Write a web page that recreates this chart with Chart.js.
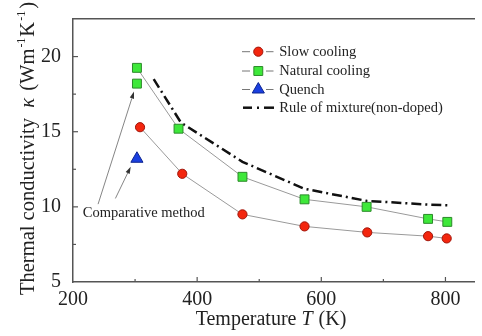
<!DOCTYPE html>
<html>
<head>
<meta charset="utf-8">
<script src="https://cdn.jsdelivr.net/npm/chart.js@4/dist/chart.umd.min.js"></script>
<style>
  html, body { margin: 0; padding: 0; background: #fff; overflow: hidden; }
  canvas { display: block; }
</style>
</head>
<body>
<canvas id="chart" width="482" height="336"></canvas>
<script>
// Data
const slowT = [308, 376, 473, 573, 674, 772, 802];
const slowK = [15.3, 12.2, 9.5, 8.7, 8.3, 8.05, 7.9];

const naturalT = [303, 370, 473, 573, 673, 772, 803];
const naturalK = [19.25, 15.2, 12.0, 10.5, 10.0, 9.2, 9.0];

// natural cooling, comparative method (not joined)
const naturalCmpT = [303];
const naturalCmpK = [18.2];

const quenchT = [303];
const quenchK = [13.2];

const mixT = [330, 374, 473, 573, 673, 773, 805];
const mixK = [18.5, 15.6, 13.0, 11.2, 10.4, 10.15, 10.1];

const xTicks = [200, 300, 400, 500, 600, 700, 800];
const yTicks = [5, 7.5, 10, 12.5, 15, 17.5, 20];

const serif = '"Liberation Serif", "Times New Roman", serif';
const axisColor = "#555";
const textColor = "#222";

function pts(xs, ys) {
  return xs.map((v, i) => ({ x: v, y: ys[i] }));
}

const markerSet = (fill, border, style, radius) => ({
  pointStyle: style,
  pointRadius: radius,
  pointBackgroundColor: fill,
  pointBorderColor: border,
  pointBorderWidth: 1,
});

const datasets = [
  {
    label: "Slow cooling",
    data: pts(slowT, slowK),
    showLine: true,
    borderColor: "#9a9a9a",
    borderWidth: 1,
    ...markerSet("#f3260e", "#a0150a", "circle", 4.6),
  },
  {
    label: "Natural cooling",
    data: pts(naturalT, naturalK),
    showLine: true,
    borderColor: "#9a9a9a",
    borderWidth: 1,
    ...markerSet("#3ee83a", "#2c8a2a", "rect", 6.3),
  },
  {
    label: "",
    data: pts(naturalCmpT, naturalCmpK),
    showLine: false,
    ...markerSet("#3ee83a", "#2c8a2a", "rect", 6.3),
  },
  {
    label: "Quench",
    data: pts(quenchT, quenchK),
    showLine: false,
    borderColor: "#9a9a9a",
    ...markerSet("#1a3fe0", "#0d2590", "triangle", 7),
  },
  {
    label: "Rule of mixture(non-doped)",
    data: pts(mixT, mixK),
    showLine: true,
    borderColor: "#111",
    borderWidth: 2.5,
    borderDash: [10, 4, 2, 4],
    pointRadius: 0,
  },
];

function line(ctx, x1, y1, x2, y2) {
  ctx.beginPath();
  ctx.moveTo(x1, y1);
  ctx.lineTo(x2, y2);
  ctx.stroke();
}

function arrow(ctx, x1, y1, x2, y2) {
  const ang = Math.atan2(y2 - y1, x2 - x1);
  const len = 7, half = 2.2;
  const bx = x2 - len * Math.cos(ang), by = y2 - len * Math.sin(ang);
  line(ctx, x1, y1, bx, by);
  ctx.beginPath();
  ctx.moveTo(x2, y2);
  ctx.lineTo(bx + half * Math.sin(ang), by - half * Math.cos(ang));
  ctx.lineTo(bx - half * Math.sin(ang), by + half * Math.cos(ang));
  ctx.closePath();
  ctx.fill();
}

// draw a run of text pieces (font / vertical shift) starting at x=0
function drawPieces(ctx, pieces) {
  let cx = 0;
  pieces.forEach(p => {
    ctx.font = p.font;
    cx += p.pre || 0;
    ctx.fillText(p.t, cx, p.dy || 0);
    cx += ctx.measureText(p.t).width;
  });
  return cx;
}

function piecesWidth(ctx, pieces) {
  let w = 0;
  pieces.forEach(p => { ctx.font = p.font; w += (p.pre || 0) + ctx.measureText(p.t).width; });
  return w;
}

const decor = {
  id: "decor",
  afterDraw(chart) {
    const { ctx, chartArea: a, scales: { x, y } } = chart;
    ctx.save();

    // inward tick marks
    ctx.strokeStyle = axisColor;
    ctx.lineWidth = 1.2;
    x.ticks.forEach(t => {
      const px = x.getPixelForValue(t.value);
      if (Math.abs(px - a.left) < 1) return;
      const len = t.value % 200 === 0 ? 5 : 3;
      line(ctx, px, a.bottom, px, a.bottom - len);
    });
    y.ticks.forEach(t => {
      const py = y.getPixelForValue(t.value);
      if (Math.abs(py - a.bottom) < 1) return;
      const len = t.value % 5 === 0 ? 5 : 3;
      line(ctx, a.left, py, a.left + len, py);
    });

    // annotation
    ctx.strokeStyle = "#777";
    ctx.fillStyle = "#333";
    ctx.lineWidth = 0.9;
    arrow(ctx, x.getPixelForValue(240.4), y.getPixelForValue(10.18),
               x.getPixelForValue(298.3), y.getPixelForValue(17.67));
    arrow(ctx, x.getPixelForValue(268.3), y.getPixelForValue(10.56),
               x.getPixelForValue(293), y.getPixelForValue(12.67));
    ctx.fillStyle = textColor;
    ctx.font = "14.5px " + serif;
    ctx.textAlign = "left";
    ctx.textBaseline = "middle";
    ctx.fillText("Comparative method", x.getPixelForValue(215.8), y.getPixelForValue(9.6));

    // legend
    const legendRows = [0, 1, 3, 4];
    const rowY = [51.7, 71, 89.5, 107.7];
    legendRows.forEach((di, i) => {
      const ds = chart.data.datasets[di];
      const ly = rowY[i];
      if (di === 4) {
        ctx.strokeStyle = ds.borderColor;
        ctx.lineWidth = 2.5;
        line(ctx, 243, ly, 252, ly);
        line(ctx, 257, ly, 259, ly);
        line(ctx, 264, ly, 274, ly);
      } else {
        ctx.strokeStyle = "#777";
        ctx.lineWidth = 1;
        line(ctx, 242, ly, 250, ly);
        line(ctx, 266, ly, 273.5, ly);
        ctx.fillStyle = ds.pointBackgroundColor;
        ctx.strokeStyle = ds.pointBorderColor;
        ctx.lineWidth = 1;
        Chart.helpers.drawPoint(ctx, {
          pointStyle: ds.pointStyle,
          radius: ds.pointRadius,
          rotation: 0,
          borderWidth: 1,
        }, 258.3, ly);
      }
      ctx.fillStyle = textColor;
      ctx.font = "14.5px " + serif;
      ctx.textBaseline = "middle";
      ctx.fillText(ds.label, 279.3, ly + 0.5);
    });

    // x title
    ctx.fillStyle = textColor;
    ctx.textBaseline = "middle";
    const xt = [
      { t: "Temperature ", font: "20px " + serif },
      { t: "T", font: "italic 20px " + serif },
      { t: " (K)", font: "20px " + serif, pre: 1 },
    ];
    ctx.save();
    ctx.translate(271 - piecesWidth(ctx, xt) / 2, 320);
    drawPieces(ctx, xt);
    ctx.restore();

    // y title
    const yt = [
      { t: "Thermal conductivity  ", font: "20.5px " + serif },
      { t: "\u03ba", font: "italic 20.5px " + serif },
      { t: " (Wm", font: "20.5px " + serif, pre: 2 },
      { t: "-1", font: "12px " + serif, dy: -7, pre: 1 },
      { t: "K", font: "20.5px " + serif, pre: 1 },
      { t: "-1", font: "12px " + serif, dy: -7, pre: 1 },
      { t: ")", font: "20.5px " + serif, pre: 2 },
    ];
    ctx.save();
    ctx.translate(29, 295);
    ctx.rotate(-Math.PI / 2);
    drawPieces(ctx, yt);
    ctx.restore();

    ctx.restore();
  },
};

const tickFont = { family: serif, size: 20 };

new Chart(document.getElementById("chart"), {
  type: "scatter",
  data: { datasets },
  plugins: [decor],
  options: {
    responsive: false,
    animation: false,
    devicePixelRatio: 1,
    layout: { padding: { top: 19, right: 0, left: 0, bottom: 0 } },
    plugins: { legend: { display: false }, tooltip: { enabled: false } },
    elements: { line: { tension: 0 } },
    scales: {
      x: {
        type: "linear",
        position: "bottom",
        min: 200,
        max: 846,
        grid: { display: false },
        border: { color: axisColor, width: 1.5 },
        afterBuildTicks: s => { s.ticks = xTicks.map(v => ({ value: v })); },
        afterFit: s => { s.height = 54; },
        ticks: {
          font: tickFont,
          color: textColor,
          padding: -2,
          autoSkip: false,
          maxRotation: 0,
          callback: v => (v % 200 === 0 ? String(v) : ""),
        },
      },
      xTop: {
        type: "linear",
        position: "top",
        min: 200,
        max: 846,
        grid: { display: false },
        border: { color: axisColor, width: 1.5 },
        ticks: { display: false },
        afterFit: s => { s.height = 0; },
      },
      y: {
        type: "linear",
        min: 5,
        max: 22.5,
        grid: { display: false },
        border: { color: axisColor, width: 1.5 },
        afterBuildTicks: s => { s.ticks = yTicks.map(v => ({ value: v })); },
        afterFit: s => { s.width = 73; },
        ticks: {
          font: tickFont,
          color: textColor,
          padding: 4,
          autoSkip: false,
          callback: v => (v % 5 === 0 ? String(v) : ""),
        },
      },
    },
  },
});
</script>
</body>
</html>
